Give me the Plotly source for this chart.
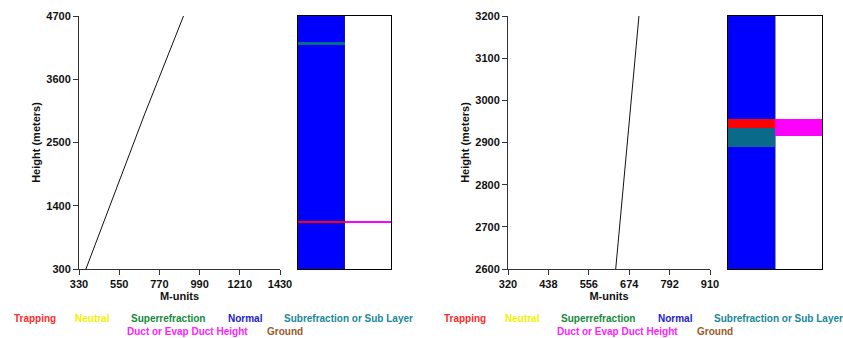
import plotly.graph_objects as go

W, H = 843, 338

# ---------------- data ----------------
# Left profile
left_height = [300, 800, 1400, 2000, 2500, 3000, 3600, 4200, 4700]
left_m = [368, 427, 498, 568, 627, 690, 765, 840, 902]
left_xticks = [330, 550, 770, 990, 1210, 1430]
left_yticks = [300, 1400, 2500, 3600, 4700]

# Right profile
right_height = [2600, 2700, 2800, 2900, 2935, 2956, 3000, 3100, 3200]
right_m = [634.6, 645.8, 657.0, 668.5, 672.0, 674.5, 679.0, 690.5, 702.5]
right_xticks = [320, 438, 556, 674, 792, 910]
right_yticks = [2600, 2700, 2800, 2900, 3000, 3100, 3200]

# Layer panels: (type, column, bottom, top)
left_layers_type = ["Normal", "Subrefraction or Sub Layer", "Trapping", "Duct or Evap Duct Height"]
left_layers_col = [0, 0, 0, 1]
left_layers_bottom = [300, 4190, 1100, 1095]
left_layers_top = [4700, 4240, 1132, 1137]

right_layers_type = ["Normal", "Subrefraction or Sub Layer", "Trapping", "Duct or Evap Duct Height"]
right_layers_col = [0, 0, 0, 1]
right_layers_bottom = [2600, 2890, 2935, 2915]
right_layers_top = [3200, 2935, 2956, 2956]

legend_names = ["Trapping", "Neutral", "Superrefraction", "Normal",
                "Subrefraction or Sub Layer", "Duct or Evap Duct Height", "Ground"]

# ---------------- styles ----------------
layer_colors = {
    "Normal": "#0000ff",
    "Subrefraction or Sub Layer": "#0a6a8a",
    "Trapping": "#ff0000",
    "Duct or Evap Duct Height": "#ff00ff",
}
legend_colors = ["#ff2a2a", "#f2f200", "#138a3a", "#2222cc", "#17879a", "#ff22ff", "#9a5a2a"]
legend_x = [12, 73, 129, 226, 281.5, 125, 265]
legend_row = [0, 0, 0, 0, 0, 1, 1]

FONT = "Liberation Sans, Arial, sans-serif"


def px_x(p):
    return p / W


def px_y(p):
    return 1 - p / H


fig = go.Figure()

# profile lines
fig.add_trace(go.Scatter(x=left_m, y=left_height, mode="lines",
                         line=dict(color="#111111", width=1), xaxis="x", yaxis="y",
                         showlegend=False, hoverinfo="skip"))
fig.add_trace(go.Scatter(x=right_m, y=right_height, mode="lines",
                         line=dict(color="#111111", width=1), xaxis="x3", yaxis="y3",
                         showlegend=False, hoverinfo="skip"))

# layer panels
for types, cols, bots, tops, xa, ya in [
    (left_layers_type, left_layers_col, left_layers_bottom, left_layers_top, "x2", "y2"),
    (right_layers_type, right_layers_col, right_layers_bottom, right_layers_top, "x4", "y4"),
]:
    for t, c, b, tp in zip(types, cols, bots, tops):
        fig.add_trace(go.Bar(
            x=[c + 0.5], y=[tp - b], base=[b], width=[1.0],
            marker=dict(color=layer_colors[t],
                        line=dict(width=1 if t == "Normal" else 0, color="#1a1a80")),
            xaxis=xa, yaxis=ya, showlegend=False, hoverinfo="skip"))

y_dom = [px_y(269), px_y(16)]
tickfont = dict(family=FONT, size=11, color="#111111", weight="bold")
titlefont = dict(family=FONT, size=11, color="#111111", weight="bold")

common_line = dict(showline=True, linecolor="#333333", linewidth=1, ticks="outside",
                   ticklen=5, tickcolor="#333333", showgrid=False, zeroline=False,
                   tickfont=tickfont, automargin=False)
panel = dict(showticklabels=False, ticks="", showgrid=False, zeroline=False,
             showline=True, mirror=True, linecolor="black", linewidth=1, automargin=False)

fig.update_layout(
    width=W, height=H,
    margin=dict(l=0, r=0, t=0, b=0),
    paper_bgcolor="white", plot_bgcolor="white",
    barmode="overlay",
    bargap=0,
    xaxis=dict(domain=[px_x(79), px_x(280)], anchor="y", range=[330, 1430],
               tickvals=left_xticks, title=dict(text="M-units", font=titlefont, standoff=2),
               **common_line),
    yaxis=dict(domain=y_dom, anchor="x", range=[300, 4700], tickvals=left_yticks,
               title=dict(text="Height (meters)", font=titlefont, standoff=3),
               **common_line),
    xaxis2=dict(domain=[px_x(298), px_x(391)], anchor="y2", range=[0, 2], **panel),
    yaxis2=dict(domain=y_dom, anchor="x2", range=[300, 4700], **panel),
    xaxis3=dict(domain=[px_x(508), px_x(710)], anchor="y3", range=[320, 910],
                tickvals=right_xticks, title=dict(text="M-units", font=titlefont, standoff=2),
                **common_line),
    yaxis3=dict(domain=y_dom, anchor="x3", range=[2600, 3200], tickvals=right_yticks,
                title=dict(text="Height (meters)", font=titlefont, standoff=3),
                **common_line),
    xaxis4=dict(domain=[px_x(728), px_x(822)], anchor="y4", range=[0, 2], **panel),
    yaxis4=dict(domain=y_dom, anchor="x4", range=[2600, 3200], **panel),
)

# legends (text-only, coloured) under each chart
row_y = [318, 331]
for offset in [0, 430]:
    for name, col, lx, r in zip(legend_names, legend_colors, legend_x, legend_row):
        fig.add_annotation(
            x=px_x(lx + offset), y=px_y(row_y[r]), xref="paper", yref="paper",
            xanchor="left", yanchor="middle", showarrow=False,
            text=name,
            font=dict(family=FONT, size=10, color=col, weight="bold"))

fig.write_html("out.html",
               config={"displayModeBar": False, "staticPlot": True},
               post_script="document.body.style.margin='0px';document.body.style.overflow='hidden';")
